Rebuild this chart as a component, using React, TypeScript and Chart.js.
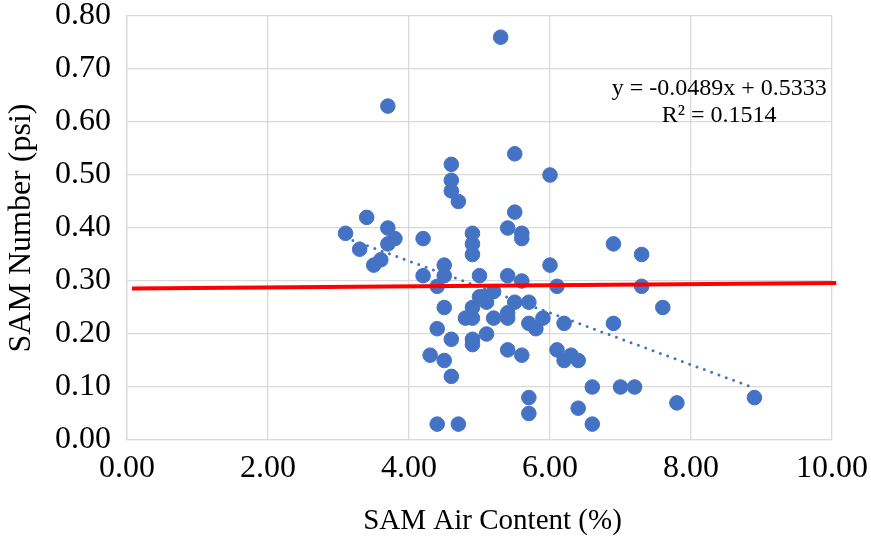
import { useEffect, useRef } from "react";
import { Chart, registerables } from "chart.js";

Chart.register(...registerables);

// SAM air content (%) of each sample
const airContent = [
  3.1, 3.3, 3.4, 3.5, 3.6, 3.7, 3.7, 3.7, 3.8, 4.2,
  4.2, 4.3, 4.4, 4.4, 4.4, 4.5, 4.5, 4.5, 4.5, 4.6,
  4.6, 4.6, 4.6, 4.6, 4.7, 4.7, 4.8, 4.9, 4.9, 4.9,
  4.9, 4.9, 4.9, 4.9, 5.0, 5.0, 5.1, 5.1, 5.2, 5.2,
  5.3, 5.4, 5.4, 5.4, 5.4, 5.4, 5.5, 5.5, 5.5, 5.6,
  5.6, 5.6, 5.6, 5.7, 5.7, 5.7, 5.7, 5.8, 5.9, 6.0,
  6.0, 6.1, 6.1, 6.2, 6.2, 6.3, 6.4, 6.4, 6.6, 6.6,
  6.9, 6.9, 7.0, 7.2, 7.3, 7.3, 7.6, 7.8, 8.9, 5.05,
];

// SAM number (psi) of each sample
const samNumber = [
  0.39, 0.36, 0.42, 0.33, 0.34, 0.63, 0.40, 0.37, 0.38, 0.38,
  0.31, 0.16, 0.29, 0.21, 0.03, 0.33, 0.31, 0.25, 0.15, 0.52,
  0.49, 0.47, 0.19, 0.12, 0.45, 0.03, 0.23, 0.39, 0.37, 0.35,
  0.25, 0.23, 0.19, 0.18, 0.31, 0.27, 0.26, 0.20, 0.28, 0.23,
  0.76, 0.40, 0.31, 0.24, 0.23, 0.17, 0.54, 0.43, 0.26, 0.39,
  0.38, 0.30, 0.16, 0.26, 0.22, 0.08, 0.05, 0.21, 0.23, 0.50,
  0.33, 0.29, 0.17, 0.22, 0.15, 0.16, 0.15, 0.06, 0.10, 0.03,
  0.37, 0.22, 0.10, 0.10, 0.35, 0.29, 0.25, 0.07, 0.08, 0.27,
];

// Linear fit shown on the chart
const trendSlope = -0.0489;
const trendIntercept = 0.5333;
const rSquared = 0.1514;

// Reference level line (red)
const refLineX = [0.07, 10.06];
const refLineY = [0.286, 0.296];

const xTickValues = [0, 2, 4, 6, 8, 10];
const xAxisTitle = "SAM Air Content (%)";
const yAxisTitle = "SAM Number (psi)";

const BLUE = "#4472C4";
const GRID = "#D9D9D9";
const FONT = "'Liberation Serif', 'Times New Roman', serif";
const TICK_SIZE = 32;

const equationLines = [
  `y = ${trendSlope}x + ${trendIntercept}`,
  `R² = ${rSquared}`,
];

export default function App() {
  const canvasRef = useRef<HTMLCanvasElement | null>(null);

  useEffect(() => {
    const canvas = canvasRef.current;
    if (!canvas) return;

    const points = airContent.map((x, i) => ({ x, y: samNumber[i] }));
    const xMin = Math.min(...airContent);
    const xMax = Math.max(...airContent);
    const trend = [xMin, xMax].map((x) => ({ x, y: trendSlope * x + trendIntercept }));
    const refLine = refLineX.map((x, i) => ({ x, y: refLineY[i] }));

    // x tick labels kept inside the canvas (last one nudged left), plus the x-axis title
    const xLabelsPlugin = {
      id: "xLabels",
      afterDraw(chart: any) {
        const { ctx, scales, chartArea, width } = chart;
        const xs = scales.x;
        ctx.save();
        ctx.font = `${TICK_SIZE}px ${FONT}`;
        ctx.fillStyle = "#000";
        ctx.textBaseline = "middle";
        ctx.textAlign = "center";
        xTickValues.forEach((v) => {
          const label = v.toFixed(2);
          const w = ctx.measureText(label).width;
          let px = xs.getPixelForValue(v);
          if (px + w / 2 > width - 3) px = width - 3 - w / 2;
          ctx.fillText(label, px, chartArea.bottom + 29);
        });
        ctx.font = `29px ${FONT}`;
        ctx.fillText(xAxisTitle, (chartArea.left + chartArea.right) / 2 + 13, chartArea.bottom + 81);
        ctx.restore();
      },
    };

    const equationPlugin = {
      id: "equation",
      afterDatasetsDraw(chart: any) {
        const { ctx, scales } = chart;
        const cx = scales.x.getPixelForValue(8.4);
        const y1 = scales.y.getPixelForValue(0.662);
        ctx.save();
        ctx.font = `24px ${FONT}`;
        ctx.fillStyle = "#000";
        ctx.textAlign = "center";
        ctx.textBaseline = "middle";
        ctx.fillText(equationLines[0], cx, y1);
        ctx.fillText(equationLines[1], cx, y1 + 27);
        ctx.restore();
      },
    };

    const chart = new Chart(canvas, {
      type: "scatter",
      data: {
        datasets: [
          {
            label: "Reference",
            data: refLine,
            showLine: true,
            borderColor: "#FF0000",
            borderWidth: 4,
            pointRadius: 0,
            clip: false,
            order: 0,
          } as any,
          {
            label: "Linear (SAM Number)",
            data: trend,
            showLine: true,
            borderColor: BLUE,
            borderWidth: 3,
            borderDash: [0, 7.8],
            borderCapStyle: "round",
            pointRadius: 0,
            order: 1,
          } as any,
          {
            label: "SAM Number",
            data: points,
            backgroundColor: BLUE,
            borderColor: BLUE,
            borderWidth: 1,
            pointRadius: 7.3,
            order: 2,
          },
        ],
      },
      options: {
        animation: false,
        responsive: true,
        maintainAspectRatio: false,
        layout: { padding: { top: 16, right: 39, left: 0, bottom: 0 } },
        plugins: {
          legend: { display: false },
          tooltip: { enabled: false },
        },
        scales: {
          x: {
            type: "linear",
            min: 0,
            max: 10,
            ticks: { stepSize: 2, display: false },
            grid: { color: GRID, lineWidth: 1.3, drawTicks: false },
            border: { display: true, color: GRID, width: 1.3 },
            title: { display: false },
            afterFit(scale: any) {
              scale.height = 99;
              scale.paddingLeft = 0;
              scale.paddingRight = 0;
            },
          },
          y: {
            type: "linear",
            min: 0,
            max: 0.8,
            ticks: {
              stepSize: 0.1,
              padding: 16,
              color: "#000",
              font: { family: FONT, size: TICK_SIZE },
              callback: (v: any) => Number(v).toFixed(2),
            },
            grid: { color: GRID, lineWidth: 1.3, drawTicks: false },
            border: { display: true, color: GRID, width: 1.3 },
            title: {
              display: true,
              text: yAxisTitle,
              color: "#000",
              font: { family: FONT, size: 32 },
              padding: { top: 2, bottom: 0 },
            },
            afterFit(scale: any) {
              scale.width = 127;
              scale.paddingTop = 0;
              scale.paddingBottom = 0;
            },
          },
        },
      },
      plugins: [xLabelsPlugin, equationPlugin],
    });

    return () => chart.destroy();
  }, []);

  return (
    <div style={{ position: "absolute", left: 0, top: 0, width: 871, height: 539, background: "#fff" }}>
      <canvas ref={canvasRef} />
    </div>
  );
}
